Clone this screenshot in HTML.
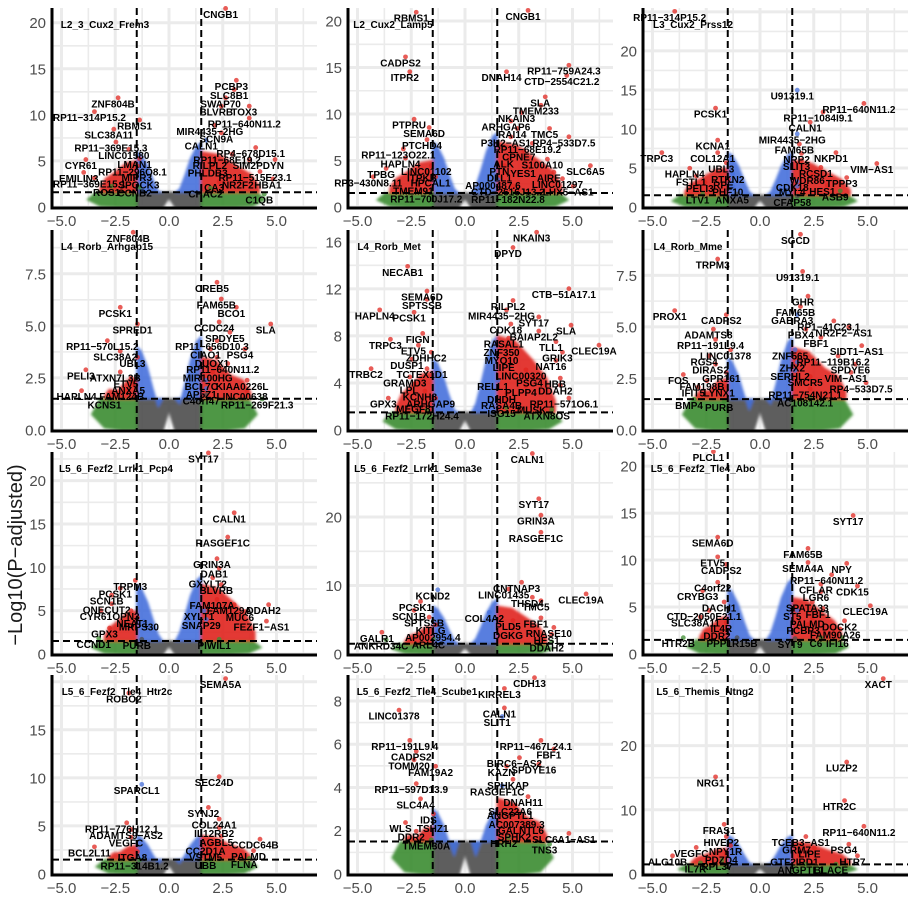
<!DOCTYPE html>
<html><head><meta charset="utf-8">
<style>
html,body{margin:0;padding:0;background:#fff;}
svg{display:block;font-family:"Liberation Sans",sans-serif;}
</style></head>
<body>
<svg id="chart" width="912" height="899" viewBox="0 0 912 899">
<defs><filter id="soft" x="-5%" y="-5%" width="110%" height="110%"><feGaussianBlur stdDeviation="1.3"/></filter></defs>
<text x="0" y="0" transform="translate(22,555) rotate(-90)" text-anchor="middle" font-size="20" fill="#1a1a1a">−Log10(P−adjusted)</text>
</svg>
<script>
// ---- chart data ----
const panelNames = ["L2_3_Cux2_Frem3","L2_Cux2_Lamp5","L3_Cux2_Prss12","L4_Rorb_Arhgap15","L4_Rorb_Met","L4_Rorb_Mme","L5_6_Fezf2_Lrrk1_Pcp4","L5_6_Fezf2_Lrrk1_Sema3e","L5_6_Fezf2_Tle4_Abo","L5_6_Fezf2_Tle4_Htr2c","L5_6_Fezf2_Tle4_Scube1","L5_6_Themis_Ntng2"];
const yMax = [21.6,21.4,25.5,9.6,17,9.7,23.3,29.5,21.5,20.7,9.2,31];
const yTicks = [[0,5,10,15,20],[0,5,10,15,20],[0,5,10,15,20],[0,2.5,5,7.5],[0,4,8,12,16],[0,2.5,5,7.5],[0,5,10,15,20],[0,10,20],[0,5,10,15,20],[0,5,10,15],[0,2,4,6,8],[0,10,20]];
const xTicks = [-5,-2.5,0,2.5,5];
const fcCut = 1.5;
const pCut = [1.6,1.5,1.5,1.5,1.5,1.5,1.5,1.5,1.5,1.5,1.5,1.5];
const blueLeftH = [6,7,7,4,6,3.5,8,7,7,4,3,6];
const blueRightH = [7,8,7,4.5,8,4.5,9,8,8,4,3,6];
const redLeftH = [5,5,5,2.5,5,2.5,5,4,4,3,2.2,4];
const redRightH = [6,7,6,3.5,8,4,8,7,6,4,3.5,5];
const redLeftX = [-3.2,-3.5,-3.5,-3,-3.2,-3,-3,-2.8,-2.8,-2.8,-2.8,-3.2];
const redRightX = [4.2,4.5,4.2,3.8,4.2,4,4,3.8,3.8,3.8,3.8,4.2];
const titleDX = [53,45,50,55,41,45,64,70,60,65,69,62];

const genes1 = [["CNGB1",2.4,20.9],["PCBP3",2.9,13.1],["SLC8B1",2.8,12.1],["SWAP70",2.4,11.2],["BLVRB",2.2,10.3],["TOX3",3.5,10.3],["RP11−640N11.2",3.5,9.0],["MIR4435−2HG",1.9,8.2],["SCN9A",2.2,7.4],["CALN1",1.5,6.6],["RP4−678D15.1",3.8,5.8],["RP11−68E19.2",2.7,5.1],["RILPL2",1.9,4.5],["SIM2",3.5,4.5],["PDYN",4.7,4.5],["PHLDB3",1.8,3.7],["RP11−515E23.1",4.0,3.2],["NR2F2",3.2,2.4],["HBA1",4.6,2.4],["CA3",2.1,2.1],["CHAC2",1.7,1.4],["C1QB",4.2,0.75],["ZNF804B",-2.6,11.2],["RP11−314P15.2",-3.7,9.7],["RBMS1",-1.6,8.8],["SLC38A11",-2.8,7.8],["RP11−369E15.3",-2.7,6.4],["LINC01580",-2.1,5.6],["CYR61",-4.1,4.5],["LMAN1",-1.6,4.6],["RP11−296O8.1",-1.7,3.8],["EMILIN3",-4.2,3.1],["MIPR3",-1.5,3.2],["RP11−369E15.1",-3.7,2.5],["SPOCK3",-1.4,2.4],["ROS1",-2.9,1.6],["CCNB2",-1.6,1.5]];
const genes2 = [["RBMS1",-2.5,20.3],["CNGB1",2.7,20.5],["CADPS2",-3.0,15.5],["ITPR2",-2.8,13.9],["DNAH14",1.7,13.9],["RP11−759A24.3",4.6,14.6],["CTD−2554C21.2",4.5,13.5],["SLA",3.5,11.2],["TMEM233",3.3,10.3],["NKAIN3",2.4,9.5],["ARHGAP6",1.9,8.6],["PTPRU",-2.6,8.8],["SEMA6D",-1.9,7.9],["RAI14",2.2,7.8],["TMC5",3.7,7.8],["P3H2−AS1",1.9,6.9],["RP4−533D7.5",4.6,6.9],["PTCHD4",-2.0,6.6],["RP11−68E19.2",2.9,6.2],["RP11−123O22.1",-3.1,5.6],["CPNE7",2.5,5.4],["HAPLN4",-3.0,4.6],["ALK",1.8,4.6],["S100A10",3.6,4.5],["LINC01102",-1.8,3.8],["TPBG",-3.9,3.5],["ITPKB",-2.0,3.1],["PTN",1.6,3.8],["YES1",2.7,3.6],["SLC6A5",5.6,3.8],["AIRE",3.9,3.1],["DLL1",1.6,3.1],["RP3−430N8.11",-4.5,2.6],["HPCAL1",-1.6,2.6],["AP000487.6",1.3,2.3],["LINC01297",4.3,2.4],["TMEM91",-2.4,1.7],["CTD−2616J13.2",2.0,1.6],["LHX5−AS1",4.8,1.6],["RP11−700J17.2",-1.8,0.85],["RP11−182N22.8",2.0,0.8]];
const genes3 = [["RP11−314P15.2",-4.2,24.3],["U91319.1",1.5,14.2],["PCSK1",-2.3,11.9],["RP11−640N11.2",4.6,12.5],["RP11−1084I9.1",2.7,11.4],["CALN1",2.1,10.1],["MIR4435−2HG",1.5,8.6],["KCNA1",-2.2,7.8],["FAM65B",1.6,7.3],["TRPC3",-4.8,6.2],["COL12A1",-2.2,6.2],["NRP2",1.7,6.1],["NKPD1",3.3,6.2],["SLIT3",1.7,5.2],["VIM−AS1",5.2,4.8],["UBL3",-1.8,4.9],["HAPLN4",-3.5,4.2],["RCSD1",2.6,4.3],["FSTL1",-3.2,3.2],["RTKN2",-1.5,3.5],["WDR86",2.2,3.4],["TPPP3",3.8,3.0],["PELI3",-2.8,2.4],["RPE",-1.7,2.8],["CDK18",1.5,2.5],["HES1",2.9,2.0],["PHF10",-1.5,1.9],["MYL4",1.5,1.9],["ASB9",3.5,1.3],["LTV1",-2.9,0.9],["ANXA5",-1.3,0.9],["CFAP58",1.5,0.6]];
const genes4 = [["ZNF804B",-1.9,9.2],["CREB5",2.0,6.8],["FAM65B",2.2,6.0],["BCO1",2.9,5.6],["PCSK1",-2.5,5.6],["SPRED1",-1.7,4.8],["CCDC24",2.1,4.9],["SLA",4.5,4.8],["SPDYE5",2.6,4.4],["RP11−570L15.2",-3.1,4.0],["RP11−656D10.3",2.0,4.0],["PSG4",3.3,3.6],["SLC38A2",-2.5,3.5],["CIAO1",1.7,3.6],["UBL3",-1.7,3.2],["DUOX1",2.0,3.2],["RP11−640N11.2",2.5,2.9],["PELI3",-4.1,2.6],["ATXN7L3B",-2.5,2.5],["MIR100HG",1.8,2.5],["ETV5",-2.0,2.2],["BCL7C",1.5,2.1],["KIAA0226L",3.4,2.1],["ANXA5",-1.9,1.9],["AP5Z1",1.5,1.7],["LINC00638",3.4,1.6],["HAPLN4",-4.3,1.6],["FAM124B",-2.2,1.6],["KCNS1",-3.0,1.2],["C4orf47",1.5,1.4],["RP11−269F21.3",4.1,1.2]];
const genes5 = [["NKAIN3",3.1,16.3],["DPYD",2.0,15.0],["NECAB1",-2.9,13.4],["CTB−51A17.1",4.6,11.5],["SEMA6D",-2.0,11.3],["SPTSSB",-2.0,10.6],["HAPLN4",-4.2,9.7],["PCSK1",-2.6,9.5],["RILPL2",2.0,10.5],["MIR4435−2HG",1.7,9.7],["SYT17",3.2,9.1],["CDK18",1.9,8.5],["SLA",4.7,8.4],["BAIAP2L2",3.2,7.9],["CLEC19A",6.0,6.7],["FIGN",-2.2,7.7],["TRPC3",-3.7,7.2],["RASAL1",1.8,7.3],["TLL1",4.0,7.0],["ETV5",-2.4,6.7],["ZNF350",1.7,6.6],["ZDHHC2",-1.8,6.1],["GRIK3",4.3,6.1],["MYO10",1.7,5.9],["DUSP1",-2.7,5.5],["NAT16",4.0,5.4],["LIPE",1.8,5.3],["TRBC2",-4.6,4.7],["TCTEX1D1",-2.0,4.7],["LINC00320",2.6,4.6],["GRAMD3",-2.8,4.0],["PSG4",3.0,4.0],["HBB",4.2,3.9],["RELL1",1.3,3.7],["PLPP4",2.6,3.2],["DDAH2",4.2,3.3],["LPL",-2.6,3.4],["KCNH8",-2.1,2.8],["DHDH",1.7,2.6],["GPX3",-3.8,2.2],["ARHGAP9",-1.6,2.2],["RP11−571O6.1",4.6,2.2],["RASA4B",1.7,2.1],["MEGF8",-2.4,1.8],["MUSK",3.1,1.7],["ISG15",1.7,1.4],["RP11−172H24.4",-2.0,1.2],["ATXN8OS",3.8,1.2]];
const genes6 = [["SGCD",1.65,9.2],["TRPM3",-2.2,8.0],["U91319.1",1.75,7.4],["GHR",2.0,6.2],["PROX1",-4.2,5.5],["FAM65B",1.65,5.7],["CADPS2",-1.8,5.3],["GABRA3",1.5,5.3],["RP1−41C23.1",3.2,5.0],["ADAMTS8",-2.4,4.6],["PBX4",1.9,4.6],["NR2F2−AS1",3.9,4.7],["RP11−191L9.4",-2.3,4.1],["FBF1",2.6,4.2],["LINC01378",-1.6,3.6],["ZNF565",1.4,3.6],["SIDT1−AS1",4.5,3.8],["RP11−119B16.2",3.4,3.3],["RGS4",-2.6,3.3],["ZHX2",1.5,3.0],["DIRAS2",-2.3,2.9],["SPDYE6",4.2,2.9],["SERHL2",1.4,2.6],["GPR161",-1.8,2.5],["FOS",-3.8,2.4],["SMCR5",2.1,2.3],["VIM−AS1",4.0,2.5],["FAM198B",-2.7,2.1],["RP4−533D7.5",4.7,2.0],["IFIT5",-3.1,1.8],["LYNX1",-1.9,1.8],["RP11−754N21.1",2.1,1.7],["BMP4",-3.3,1.2],["PURB",-1.9,1.1],["AC108142.1",2.1,1.3]];
const genes7 = [["SYT17",1.6,22.5],["CALN1",2.8,15.6],["RASGEF1C",2.5,12.8],["GRIN3A",2.0,10.3],["DAB1",2.1,9.2],["TRPM3",-1.8,7.8],["GXYLT2",1.8,8.1],["PCSK1",-2.5,6.9],["BLVRB",2.2,7.3],["SCN1B",-2.9,6.1],["FAM107A",2.0,5.6],["ONECUT2",-2.9,5.1],["FAM129A",2.8,5.0],["DDAH2",4.4,5.0],["CYR61",-3.4,4.3],["OPN3",-2.0,4.3],["MUC6",3.3,4.2],["NEAT1",-1.7,3.5],["XYLT1",1.4,4.3],["SNAP29",1.5,3.3],["MRPS30",-1.4,3.1],["FEZF1−AS1",4.3,3.1],["GPX3",-3.0,2.3],["CCND1",-3.5,1.1],["PURB",-1.5,1.0],["PIWIL1",2.1,1.0]];
const genes8 = [["CALN1",2.9,28.4],["SYT17",3.2,21.8],["GRIN3A",3.3,19.4],["RASGEF1C",3.3,16.9],["CNTNAP3",2.4,9.6],["KCND2",-1.5,8.5],["LINC01435",1.8,8.6],["CLEC19A",5.4,7.9],["THSD4",2.9,7.4],["TMC5",3.3,6.9],["PCSK1",-2.3,6.8],["SCN1B",-2.6,5.5],["COL4A2",0.9,5.2],["FBF1",3.3,4.4],["SPTSSB",-1.9,4.5],["PLD5",2.0,4.0],["KITLG",-1.6,3.4],["RNASE10",3.9,3.0],["DGKG",2.0,2.7],["HES1",3.8,2.0],["GALR1",-4.1,2.3],["AP002954.4",-1.5,2.4],["ANKRD34C",-3.9,1.2],["ARL4C",-1.7,1.3],["DDAH2",3.8,0.9]];
const genes9 = [["PLCL1",-2.4,20.9],["SYT17",4.1,14.1],["SEMA6D",-2.2,11.8],["FAM65B",2.0,10.6],["ETV5",-2.2,9.7],["SEMA4A",2.0,9.1],["NPY",3.8,9.0],["CADPS2",-1.8,8.9],["RP11−640N11.2",3.1,7.8],["C4orf22",-2.2,7.0],["CFLAR",2.6,6.8],["CDK15",4.3,6.6],["CRYBG3",-2.9,6.1],["LGR6",2.6,6.0],["DACH1",-1.9,4.9],["SPATA33",2.2,4.9],["CLEC19A",4.9,4.5],["FBF1",2.7,4.2],["CTD−2050E21.1",-2.6,4.0],["ST5",1.5,4.0],["SLC38A11",-3.0,3.3],["PALMD",2.2,3.2],["DOCK2",3.7,2.9],["IL4R",-1.8,2.7],["PCBP3",2.0,2.5],["FAM90A26",3.5,2.0],["DDR2",-2.0,1.9],["HTR2B",-3.8,1.1],["PPP1R15B",-1.3,1.1],["SYT9",1.4,1.0],["C6",2.6,1.1],["IFI16",3.6,1.1]];
const genes10 = [["SEMA5A",2.4,19.7],["ROBO2",-2.1,18.2],["SEC24D",2.1,9.5],["SPARCL1",-1.5,8.7],["SYNJ2",1.6,6.3],["COL24A1",2.1,5.1],["RP11−776H12.1",-2.2,4.7],["IL12RB2",2.1,4.2],["ADAMTS9−AS2",-2.0,4.0],["AGBL5",2.2,3.3],["CCDC64B",4.0,3.0],["VEGFC",-2.0,3.2],["CC2D1A",1.7,2.4],["BCL2L11",-3.7,2.2],["ITGA8",-1.7,1.7],["VSTM5",1.7,1.7],["PALMD",3.7,1.8],["RP11−314B1.2",-1.6,0.85],["UBB",1.7,0.9],["FLNA",3.5,1.0]];
const genes11 = [["CDH13",3.0,8.8],["KIRREL3",1.6,8.3],["LINC01378",-3.3,7.3],["CALN1",1.6,7.4],["SLIT1",1.5,7.0],["RP11−191L9.4",-2.8,5.9],["RP11−467L24.1",3.3,5.9],["FBF1",3.9,5.5],["CADPS2",-2.5,5.4],["BIRC6−AS2",2.3,5.1],["SPDYE16",3.2,4.8],["TOMM20",-2.6,5.0],["KAZN",1.7,4.7],["FAM19A2",-1.6,4.7],["SPHKAP",2.0,4.1],["RP11−597D13.9",-2.5,3.9],["RASGEF1C",1.5,3.8],["DNAH11",2.7,3.3],["SLC4A4",-2.3,3.2],["SLC22A6",2.1,2.9],["ANGPTL1",2.1,2.7],["IDS",-1.7,2.5],["AC007389.3",2.4,2.3],["WLS",-3.0,2.1],["TSHZ1",-1.5,2.1],["GALNTL6",2.6,2.0],["DDR2",-2.5,1.7],["SPHK2",2.3,1.7],["SLC6A1−AS1",4.6,1.6],["TMEM30A",-1.8,1.3],["HRH2",1.8,1.4],["TNS3",3.7,1.1]];
const genes12 = [["XACT",5.5,29.5],["LUZP2",3.8,16.5],["NRG1",-2.3,14.2],["HTR2C",3.7,10.5],["RP11−640N11.2",4.6,6.5],["FRAS1",-1.9,6.8],["HIVEP2",-1.8,4.9],["TCEB3−AS1",1.9,4.9],["GRM7",1.7,3.7],["PSG4",3.9,3.7],["VEGFC",-3.2,3.2],["NPY1R",-1.6,3.5],["LIPE",2.3,3.1],["PDZD4",-1.8,2.2],["GTF2IRD1",1.6,1.9],["HTR7",4.3,1.9],["ALG10B",-4.3,1.9],["IL7R",-3.0,0.8],["RPL37",-2.0,1.2],["ANGPTL1",1.9,0.6],["BLACE",3.3,0.6]];
const allGenes = [genes1,genes2,genes3,genes4,genes5,genes6,genes7,genes8,genes9,genes10,genes11,genes12];

// ---- layout ----
const NS = "http://www.w3.org/2000/svg";
const svg = document.getElementById("chart");
const colLeft = [52, 348, 643];
const rowTop = [8, 230, 452, 675];
const rowBottom = [208, 431, 655, 875];
const PW = 265, X0OFF = 117, XS = 21.5;
const COLORS = {red:"#e0261f", blue:"#4570dc", green:"#3c8c30", gray:"#4d4d4d"};

function mk(tag, attrs, parent){
  const e = document.createElementNS(NS, tag);
  for (const k in attrs) e.setAttribute(k, attrs[k]);
  (parent||svg).appendChild(e);
  return e;
}
function fmt(v, ticks){
  const dec = ticks.some(t => t % 1 !== 0) ? 1 : 0;
  const s = v.toFixed(dec);
  return s.replace("-", "−");
}

for (let p = 0; p < 12; p++){
  const c = p % 3, r = Math.floor(p / 3);
  const L = colLeft[c], T = rowTop[r], B = rowBottom[r];
  const H = B - T;
  const sx = x => L + X0OFF + x * XS;
  const sy = y => B - 1 - y * (H - 1) / yMax[p];

  const g = mk("g", {});
  
  

  const clipId = "clip" + p;
  const cp = mk("clipPath", {id: clipId}, g);
  mk("rect", {x: L, y: T - 2, width: PW, height: H + 2}, cp);

  // grid
  const grid = mk("g", {"clip-path": "url(#" + clipId + ")"}, g);
  
  
  for (let v = -6.25; v <= 7.5; v += 1.25){
    const major = Math.abs(v / 2.5 - Math.round(v / 2.5)) < 1e-6;
    mk("line", {x1: sx(v), x2: sx(v), y1: T, y2: B, stroke: "#ebebeb", "stroke-width": major ? 3 : 1.6}, grid);
  }
  const ticks = yTicks[p];
  const step = ticks[1] - ticks[0];
  for (let v = 0; v <= yMax[p] + step; v += step / 2){
    const major = Math.abs(v / step - Math.round(v / step)) < 1e-6;
    mk("line", {x1: L, x2: L + PW, y1: sy(v), y2: sy(v), stroke: "#ebebeb", "stroke-width": major ? 3 : 1.6}, grid);
  }

  // point clouds (dense regions)
  const t = pCut[p];
  const outer = mk("g", {"clip-path": "url(#" + clipId + ")"}, g);
  const cloud = mk("g", {filter: "url(#soft)"}, outer);
  
  
  const poly = (pts, col, name) => {
    const e = mk("polygon", {points: pts.map(q => sx(q[0]).toFixed(1) + "," + sy(q[1]).toFixed(1)).join(" "), fill: col, "fill-opacity": 0.9, stroke: col, "stroke-opacity": 0.5, "stroke-width": 2, "stroke-linejoin": "round"}, cloud);
    
    
  };
  poly([[-fcCut,-0.1],[-0.3,-0.1],[0,t*0.6],[0.3,-0.1],[fcCut,-0.1],[fcCut,t],[-fcCut,t]], COLORS.gray, "non-significant-points");
  const gl = redLeftX[p] - 0.6, gr = redRightX[p] + 0.3;
  poly([[-fcCut,0],[-fcCut,t],[gl+0.4,t],[gl,t*0.5],[gl+0.6,0.1],[gl+1.4,0]], COLORS.green, "low-significance-left-points");
  poly([[fcCut,0],[fcCut,t],[gr-0.4,t],[gr,t*0.5],[gr-0.6,0.1],[gr-1.4,0]], COLORS.green, "low-significance-right-points");
  const bl = blueLeftH[p], br = blueRightH[p];
  poly([[-fcCut,t],[-fcCut,bl],[-1.3,bl*0.95],[-1.0,bl*0.75],[-0.75,bl*0.5],[-0.5,bl*0.28],[-0.3,t]], COLORS.blue, "small-fold-change-down-points");
  poly([[fcCut,t],[fcCut,br],[1.3,br*0.95],[1.0,br*0.75],[0.75,br*0.5],[0.5,br*0.28],[0.3,t]], COLORS.blue, "small-fold-change-up-points");
  const rl = redLeftH[p], el = redLeftX[p];
  const dl = el + fcCut;
  poly([[-fcCut,t],[-fcCut,rl],[-fcCut+dl*0.3,rl*0.95],[-fcCut+dl*0.6,rl*0.75],[-fcCut+dl*0.85,t+(rl-t)*0.45],[el,t+(rl-t)*0.15],[el,t]], COLORS.red, "significant-down-points");
  const rr = redRightH[p], er = redRightX[p];
  const dr = er - fcCut;
  poly([[fcCut,t],[fcCut,rr],[fcCut+dr*0.3,rr*0.95],[fcCut+dr*0.6,rr*0.75],[fcCut+dr*0.85,t+(rr-t)*0.45],[er,t+(rr-t)*0.15],[er,t]], COLORS.red, "significant-up-points");

  // labelled gene points
  const genes = allGenes[p];
  const dots = mk("g", {"clip-path": "url(#" + clipId + ")"}, g);
  genes.forEach(gn => {
    const x = gn[1], y = gn[2];
    const col = (y > t) ? (Math.abs(x) > fcCut ? COLORS.red : COLORS.blue) : (Math.abs(x) > fcCut ? COLORS.green : COLORS.gray);
    const d = mk("circle", {cx: sx(x) + 5, cy: sy(y) - 6, r: 2.4, fill: col, "fill-opacity": 0.75}, dots);
    
    
  });

  // threshold lines
  const v1 = mk("line", {x1: sx(-fcCut), x2: sx(-fcCut), y1: T, y2: B, stroke: "#000", "stroke-width": 2, "stroke-dasharray": "7,4"}, g);
  
  
  const v2 = mk("line", {x1: sx(fcCut), x2: sx(fcCut), y1: T, y2: B, stroke: "#000", "stroke-width": 2, "stroke-dasharray": "7,4"}, g);
  
  
  const hl = mk("line", {x1: L, x2: L + PW, y1: sy(t), y2: sy(t), stroke: "#000", "stroke-width": 2, "stroke-dasharray": "7,4"}, g);
  
  

  // gene labels
  genes.forEach(gn => {
    const tx = mk("text", {x: sx(gn[1]), y: sy(gn[2]) + 3.5, "text-anchor": "middle", "font-size": 10, "font-weight": "bold", fill: "#000"}, g);
    tx.textContent = gn[0];
    
    
  });

  // panel title
  const tt = mk("text", {x: L + titleDX[p], y: T + 20, "text-anchor": "middle", "font-size": 10, "font-weight": "bold", fill: "#000"}, g);
  tt.textContent = panelNames[p];
  
  

  // axes
  const ya = mk("line", {x1: L, x2: L, y1: T, y2: B + 1.5, stroke: "#000", "stroke-width": 3}, g);
  
  
  const xa = mk("line", {x1: L - 1.5, x2: L + PW, y1: B, y2: B, stroke: "#000", "stroke-width": 3}, g);
  
  

  ticks.forEach(v => {
    const tl = mk("text", {x: L - 6, y: sy(v) + 5.5, "text-anchor": "end", "font-size": 15, fill: "#4d4d4d"}, g);
    tl.textContent = fmt(v, ticks);
    
    
  });
  xTicks.forEach(v => {
    const tl = mk("text", {x: sx(v), y: B + 18, "text-anchor": "middle", "font-size": 15, fill: "#4d4d4d"}, g);
    tl.textContent = fmt(v, xTicks);
    
    
  });
}
</script>
</body></html>
